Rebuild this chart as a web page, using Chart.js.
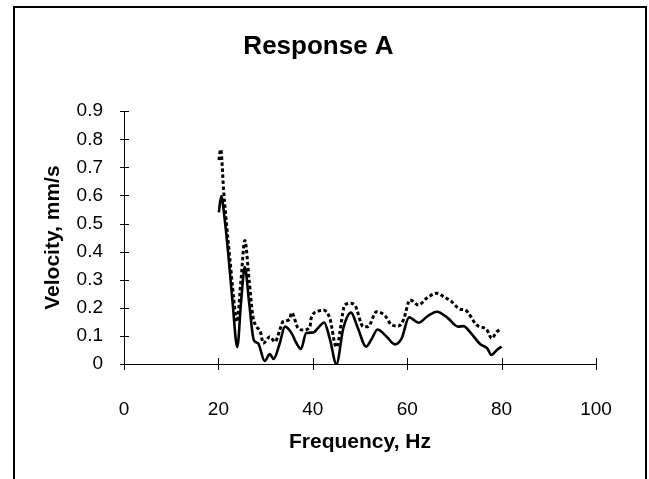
<!DOCTYPE html>
<html>
<head>
<meta charset="utf-8">
<script src="https://cdn.jsdelivr.net/npm/chart.js@4"></script>
<style>
  html, body { margin: 0; padding: 0; background: #ffffff; }
  #wrap { width: 649px; height: 479px; position: relative; }
</style>
</head>
<body>
<div id="wrap"><canvas id="c" width="649" height="479"></canvas></div>
<script>
// ---- Data ----
const titleText = 'Response A';
const xAxisTitle = 'Frequency, Hz';
const yAxisTitle = 'Velocity, mm/s';

const xTicks = [0, 20, 40, 60, 80, 100];
const xTickLabels = ['0', '20', '40', '60', '80', '100'];
const yTicks = [0, 0.1, 0.2, 0.3, 0.4, 0.5, 0.6, 0.7, 0.8, 0.9];
const yTickLabels = ['0', '0.1', '0.2', '0.3', '0.4', '0.5', '0.6', '0.7', '0.8', '0.9'];

// Solid series
const solidFreq = [20.1, 20.6, 21.3, 22.1, 23.0, 24.0, 24.8, 25.6, 26.5, 27.5, 28.4, 29.8, 30.9, 31.7, 33.0, 34.1, 35.5, 36.5, 37.5, 38.6, 40.1, 41.2, 42.4, 43.6, 45.0, 46.5, 48.1, 49.5, 51.3, 52.5, 53.7, 55.5, 57.4, 58.8, 60.4, 62.4, 64.3, 66.3, 68.5, 70.8, 71.9, 73.5, 75.5, 77.0, 77.8, 79.0, 80.0];
const solidVel  = [0.54, 0.598, 0.52, 0.39, 0.22, 0.06, 0.22, 0.345, 0.22, 0.085, 0.074, 0.011, 0.035, 0.018, 0.074, 0.133, 0.11, 0.075, 0.054, 0.11, 0.112, 0.13, 0.148, 0.09, 0.0, 0.13, 0.183, 0.13, 0.062, 0.09, 0.123, 0.1, 0.07, 0.09, 0.166, 0.147, 0.17, 0.186, 0.165, 0.133, 0.135, 0.11, 0.07, 0.055, 0.032, 0.05, 0.062];

// Dotted series
const dotFreq = [20.1, 20.5, 21.1, 21.6, 22.4, 23.2, 23.9, 24.8, 25.6, 26.5, 27.3, 28.1, 28.9, 29.5, 30.9, 32.0, 33.0, 33.7, 35.1, 35.5, 36.9, 38.0, 39.4, 39.7, 41.5, 42.2, 43.6, 45.0, 46.8, 47.9, 48.9, 50.7, 51.7, 53.5, 55.3, 56.7, 58.1, 59.2, 60.6, 62.4, 64.1, 66.3, 67.7, 69.4, 71.2, 72.3, 74.7, 76.9, 77.9, 79.0, 80.0];
const dotVel  = [0.726, 0.764, 0.62, 0.52, 0.38, 0.24, 0.15, 0.3, 0.44, 0.3, 0.17, 0.133, 0.115, 0.074, 0.097, 0.079, 0.121, 0.151, 0.159, 0.183, 0.127, 0.121, 0.133, 0.166, 0.19, 0.192, 0.163, 0.06, 0.21, 0.216, 0.21, 0.133, 0.133, 0.186, 0.172, 0.139, 0.135, 0.157, 0.228, 0.21, 0.234, 0.252, 0.24, 0.222, 0.195, 0.192, 0.139, 0.121, 0.091, 0.115, 0.123];

const toPoints = (xs, ys) => xs.map((x, i) => ({ x: x, y: ys[i] }));

const FONT = "'Liberation Sans', Arial, sans-serif";

// Frame around the chart + tick marks that cross the axis lines
const decor = {
  id: 'decor',
  beforeDraw(chart) {
    const ctx = chart.ctx;
    ctx.save();
    ctx.fillStyle = '#ffffff';
    ctx.fillRect(0, 0, chart.width, chart.height);
    ctx.strokeStyle = '#000000';
    ctx.lineWidth = 2;
    ctx.strokeRect(14, 7, 632, 600);
    ctx.restore();
  },
  afterDraw(chart) {
    const ctx = chart.ctx;
    const xs = chart.scales.x, ys = chart.scales.y;
    ctx.save();
    ctx.strokeStyle = '#000000';
    ctx.lineWidth = 1;
    ctx.beginPath();
    const y0 = ys.getPixelForValue(0);
    const x0 = xs.getPixelForValue(0);
    xTicks.forEach(v => {
      const px = Math.round(xs.getPixelForValue(v)) + 0.5;
      ctx.moveTo(px, y0 - 6);
      ctx.lineTo(px, y0 + 6);
    });
    yTicks.forEach(v => {
      const py = Math.round(ys.getPixelForValue(v)) + 0.5;
      ctx.moveTo(x0 - 4, py);
      ctx.lineTo(x0 + 5, py);
    });
    ctx.stroke();
    ctx.restore();
  }
};

new Chart(document.getElementById('c'), {
  type: 'line',
  data: {
    datasets: [
      {
        label: 'Dotted',
        data: toPoints(dotFreq, dotVel),
        borderColor: '#000000',
        borderWidth: 3,
        borderDash: [3.5, 2.5],
        pointRadius: 0,
        fill: false,
        cubicInterpolationMode: 'monotone'
      },
      {
        label: 'Solid',
        data: toPoints(solidFreq, solidVel),
        borderColor: '#000000',
        borderWidth: 2.6,
        pointRadius: 0,
        fill: false,
        cubicInterpolationMode: 'monotone'
      }
    ]
  },
  plugins: [decor],
  options: {
    responsive: false,
    animation: false,
    events: [],
    layout: { padding: { left: 41, right: 53, top: 31, bottom: 24 } },
    plugins: {
      legend: { display: false },
      tooltip: { enabled: false },
      title: {
        display: true,
        text: titleText,
        color: '#000000',
        font: { family: FONT, size: 26, weight: 'bold', lineHeight: 1.2 },
        padding: { top: 0, bottom: 49 }
      }
    },
    scales: {
      x: {
        type: 'linear',
        min: 0,
        max: 100,
        afterBuildTicks: s => { s.ticks = xTicks.map(v => ({ value: v })); },
        afterFit: s => { s.height = 91; },
        grid: { display: false },
        border: { display: true, color: '#000000', width: 1 },
        ticks: {
          color: '#000000',
          padding: 26,
          maxRotation: 0,
          font: { family: FONT, size: 19 },
          callback: (v) => xTickLabels[xTicks.indexOf(v)]
        },
        title: {
          display: true,
          text: xAxisTitle,
          color: '#000000',
          font: { family: FONT, size: 21, weight: 'bold', lineHeight: 1.2 },
          padding: 0
        }
      },
      y: {
        type: 'linear',
        min: 0,
        max: 0.9,
        afterBuildTicks: s => { s.ticks = yTicks.map(v => ({ value: v })); },
        afterFit: s => { s.width = 83; },
        grid: { display: false },
        border: { display: true, color: '#000000', width: 1 },
        ticks: {
          color: '#000000',
          padding: 13,
          font: { family: FONT, size: 19 },
          callback: (v) => yTickLabels[yTicks.findIndex(t => Math.abs(t - v) < 1e-9)]
        },
        title: {
          display: true,
          text: yAxisTitle,
          color: '#000000',
          font: { family: FONT, size: 21, weight: 'bold', lineHeight: 1.2 },
          padding: 0
        }
      }
    }
  }
});
</script>
</body>
</html>
